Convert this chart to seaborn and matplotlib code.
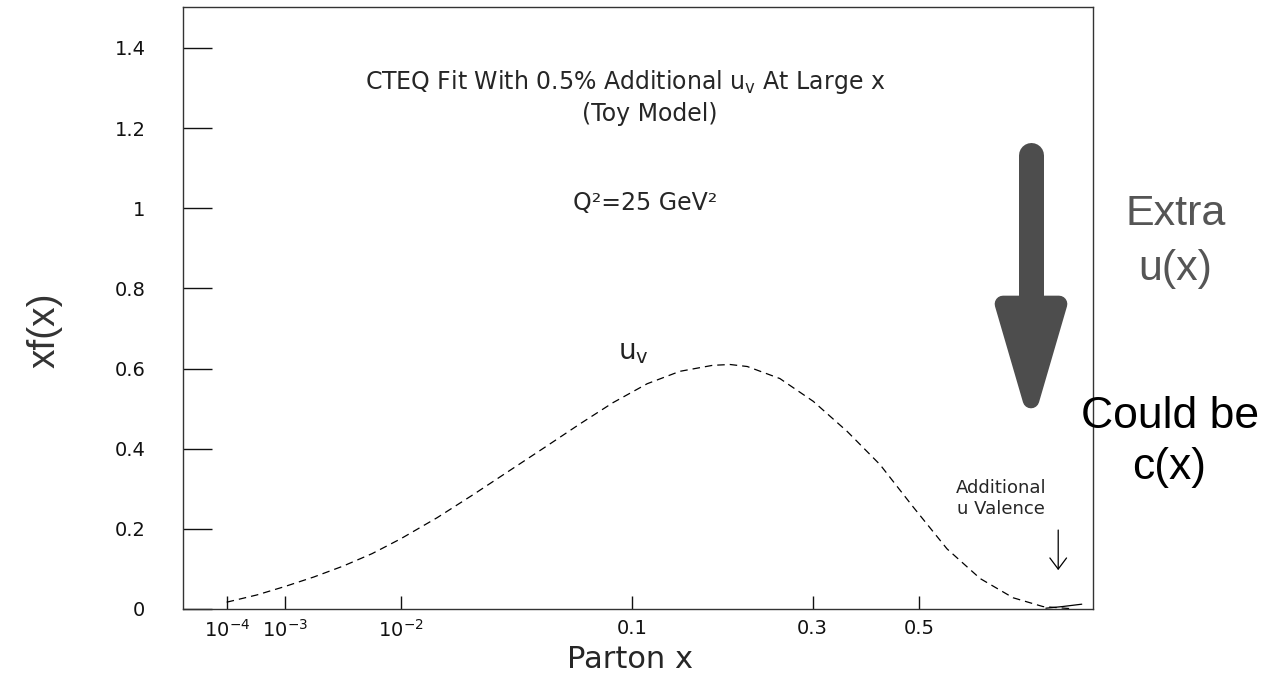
import numpy as np
import pandas as pd
import matplotlib
matplotlib.use("Agg")
import matplotlib.pyplot as plt
import seaborn as sns
from matplotlib.patches import Polygon
from matplotlib.lines import Line2D

sns.set_style("ticks")
plt.rcParams['font.family'] = ['DejaVu Sans']
plt.rcParams['mathtext.default'] = 'regular'

# u valence curve (x, x*f(x))
x_uv = [1.0e-4, 4.0e-4, 1.0e-3, 2.11e-3, 3.87e-3, 6.45e-3, 1.0e-2, 0.0163,
        0.0247, 0.0362, 0.0510, 0.0674, 0.0872, 0.1115, 0.139, 0.171, 0.190,
        0.210, 0.252, 0.301, 0.357, 0.418, 0.486, 0.564, 0.648, 0.740, 0.831,
        0.920]
y_uv = [0.017, 0.035, 0.056, 0.080, 0.107, 0.138, 0.175, 0.228,
        0.285, 0.346, 0.407, 0.462, 0.515, 0.562, 0.593, 0.608, 0.610,
        0.605, 0.575, 0.518, 0.443, 0.360, 0.255, 0.150, 0.076, 0.028, 0.006,
        0.001]

# the extra valence piece at large x
x_add = [0.84, 0.893, 0.96]
y_add = [0.002, 0.006, 0.012]

x_ticks = [1e-4, 1e-3, 1e-2, 0.1, 0.3, 0.5]
x_ticklabels = ['$10^{-4}$', '$10^{-3}$', '$10^{-2}$', '0.1', '0.3', '0.5']
y_ticks = [0, 0.2, 0.4, 0.6, 0.8, 1.0, 1.2, 1.4]
y_ticklabels = ['0', '0.2', '0.4', '0.6', '0.8', '1', '1.2', '1.4']

W, H = 1285, 677


def px(x, y):
    # pixel position -> figure fraction
    return x / W, 1 - y / H


fig = plt.figure(figsize=(12.85, 6.77), dpi=100)
ax = fig.add_axes([183 / W, 1 - 609 / H, 910 / W, 602 / H])

# x axis is roughly x^0.3 in the original
fwd = lambda x: np.power(np.clip(x, 0, None), 0.3)
inv = lambda u: np.power(np.clip(u, 0, None), 1 / 0.3)
ax.set_xscale('function', functions=(fwd, inv))

df_uv = pd.DataFrame({'x': x_uv, 'xf': y_uv})
df_add = pd.DataFrame({'x': x_add, 'xf': y_add})
sns.lineplot(data=df_uv, x='x', y='xf', ax=ax, estimator=None, sort=False,
             color='black', linewidth=0.9, linestyle=(0, (6, 4)))
sns.lineplot(data=df_add, x='x', y='xf', ax=ax, estimator=None, sort=False,
             color='black', linewidth=0.9)

ax.set_xlim(1e-6, 1.0)
ax.set_ylim(0, 1.502)
ax.set_xticks(x_ticks)
ax.set_xticklabels(x_ticklabels)
ax.set_yticks(y_ticks)
ax.set_yticklabels(y_ticklabels)
ax.minorticks_off()
ax.set_xlabel('')
ax.set_ylabel('')
ax.tick_params(axis='x', direction='in', length=9.5, width=1, pad=7,
               labelsize=14, colors='#111111')
ax.tick_params(axis='y', direction='in', length=21, width=1, pad=27,
               labelsize=14, colors='#111111')
for s in ax.spines.values():
    s.set_visible(True)
    s.set_color('#333333')
    s.set_linewidth(1.0)

# titles inside the frame
fig.text(*px(625, 82), 'CTEQ Fit With 0.5% Additional u$_v$ At Large x',
         ha='center', va='center', fontsize=17)
fig.text(*px(650, 114), '(Toy Model)', ha='center', va='center', fontsize=17)
fig.text(*px(645, 203), 'Q²=25 GeV²', ha='center', va='center', fontsize=17)
fig.text(*px(633, 352), 'u$_v$', ha='center', va='center', fontsize=20,
         color='#222222')
fig.text(*px(1001, 488), 'Additional', ha='center', va='center', fontsize=13)
fig.text(*px(1001, 509), 'u Valence', ha='center', va='center', fontsize=13)

ax.annotate('', xy=(0.88, 0.097), xytext=(0.88, 0.197),
            arrowprops=dict(arrowstyle='->,head_length=0.8,head_width=0.6',
                            lw=0.9, color='black', shrinkA=0, shrinkB=0),
            )

# axis titles
fig.text(*px(630, 660), 'Parton x', ha='center', va='center', fontsize=22)
fig.text(*px(45, 330), 'xf(x)', ha='center', va='center', rotation=90,
         fontsize=28, family='Liberation Sans', color='#333333')

# big grey arrow on the right
arrow_col = '#4d4d4d'
fig.add_artist(Line2D(*zip(px(1031, 155), px(1031, 305)), transform=fig.transFigure,
                      lw=18, color=arrow_col, solid_capstyle='round'))
fig.add_artist(Polygon([px(1003, 304), px(1059, 304), px(1031, 400)],
                       closed=True, transform=fig.transFigure,
                       facecolor=arrow_col, edgecolor=arrow_col,
                       lw=12, joinstyle='round'))

fig.text(*px(1176, 214), 'Extra', ha='center', va='center', fontsize=31,
         family='Liberation Sans', color='#555555')
fig.text(*px(1175, 269), 'u(x)', ha='center', va='center', fontsize=31,
         family='Liberation Sans', color='#555555')
fig.text(*px(1170, 417), 'Could be', ha='center', va='center', fontsize=32,
         family='Liberation Sans', color='black')
fig.text(*px(1169, 467), 'c(x)', ha='center', va='center', fontsize=32,
         family='Liberation Sans', color='black')

fig.savefig('out.png', dpi=100)
